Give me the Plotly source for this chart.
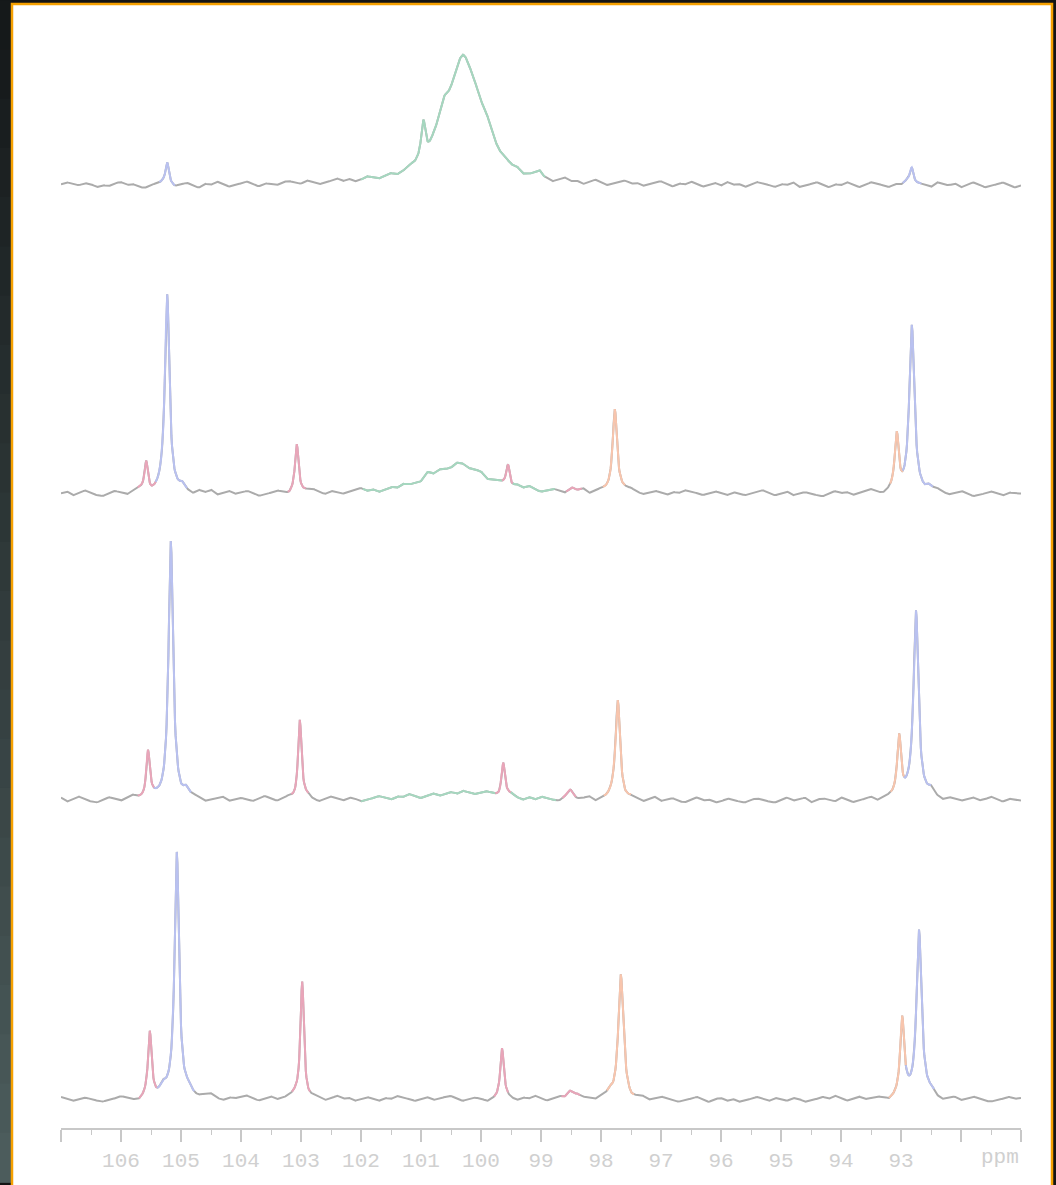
import numpy as np
import plotly.graph_objects as go

# ---------------- data ----------------
ppm_start, ppm_end = 107.0, 91.0
major_ticks = [107, 106, 105, 104, 103, 102, 101, 100, 99, 98, 97, 96, 95, 94, 93, 92, 91]
major_labels = ["", "106", "105", "104", "103", "102", "101", "100", "99", "98", "97",
                "96", "95", "94", "93", "", ""]
minor_ticks = [106.5, 105.5, 104.5, 103.5, 102.5, 101.5, 100.5, 99.5,
               98.5, 97.5, 96.5, 95.5, 94.5, 93.5, 92.5, 91.5]

# baseline offsets of the four stacked spectra (intensity units)
offsets = [945, 636, 329, 29]

# peak tables: centre (ppm), height, half width (ppm)
t1_pos = [105.23, 100.96, 100.65, 100.30, 99.95, 99.02, 92.82]
t1_hgt = [22, 38, 22, 120, 20, 5, 19]
t1_hw = [0.035, 0.045, 0.12, 0.33, 0.22, 0.04, 0.04]

t2_pos = [105.58, 105.23, 104.98, 103.07, 100.90, 100.35, 99.55, 98.47, 97.77, 93.07, 92.82, 92.55]
t2_hgt = [30, 200, 5, 48, 7, 30, 22, 3, 85, 56, 166, 5]
t2_hw = [0.035, 0.045, 0.05, 0.035, 0.1, 0.5, 0.035, 0.08, 0.045, 0.04, 0.05, 0.06]

t3_pos = [105.55, 105.17, 104.92, 103.02, 100.30, 99.63, 98.52, 97.72, 93.03, 92.75, 92.50]
t3_hgt = [47, 258, 7, 80, 6, 34, 7, 99, 62, 190, 5]
t3_hw = [0.035, 0.045, 0.05, 0.035, 0.9, 0.035, 0.06, 0.045, 0.04, 0.05, 0.06]

t4_pos = [105.52, 105.30, 105.07, 104.85, 102.98, 99.65, 98.52, 97.85, 97.67, 92.98, 92.70, 92.48]
t4_hgt = [64, 6, 248, 6, 118, 50, 8, 6, 124, 78, 168, 5]
t4_hw = [0.035, 0.06, 0.045, 0.06, 0.035, 0.035, 0.07, 0.05, 0.05, 0.04, 0.05, 0.06]

# baseline noise read every 0.1 ppm from 107.0 down to 91.0 (pixel-scale units)
ripple_1 = [1, 3, 1, 0, 2, 1, -2, 0, -1, 2, 3, 0, 1, -2, -3, 0, 1, 2, 0, -2,
            0, 2, -1, -3, 1, 0, 3, 1, -2, 0, 1, 3, 0, -2, 1, 0, -1, 2, 3, 1,
            0, 3, 1, -1, 0, 2, 4, 1, 3, 0, 1, 4, 2, 0, 2, 3, 0, 1, 4, 2,
            1, -1, 3, 1, 4, 0, 1, 3, 0, 2, -1, 3, 1, -1, 2, 0, 2, -2, 0, 3,
            1, 0, -2, 1, 3, 0, 1, -2, 0, 3, 1, -2, 0, 2, 3, 0, 1, -2, 0, 2,
            3, 0, -2, 1, 0, 3, 1, -2, 0, 2, -1, 3, 0, 1, -2, 0, 3, 1, 0, -2,
            1, 0, 3, -2, 0, 1, 3, 0, -2, 1, 0, 3, 1, -2, 0, 3, 1, 0, -2, 1,
            0, 3, -2, 1, 0, -2, 3, 1, 0, 2, -2, 0, 3, 1, -2, 0, 1, 3, 0, -2,
            0]
ripple_2 = [0, 2, -2, 0, 3, 0, -2, -3, 0, 2, 0, -2, 1, 3, 0, -2, 0, 2, -2, 0,
            1, 0, -2, 2, 0, 3, -2, 0, 2, -1, 0, 2, 0, -3, -2, 0, 2, 0, -2, 1,
            0, 2, 3, 0, -2, 1, 0, -2, 0, 2, 3, 0, 1, -2, 0, 2, 0, 3, 1, 0,
            -2, 1, 0, 3, 0, -2, 1, 0, -2, 0, 2, -2, 0, 1, 0, -2, 2, 0, 3, 0,
            -2, 0, 2, 0, -2, 1, 0, 3, -2, 0, 2, 0, -2, 0, 2, 3, 0, -2, 0, 2,
            0, -2, 1, 0, 3, 1, 0, -2, 0, 2, 0, -2, 1, 0, -2, 0, 2, 3, 0, -2,
            0, 2, -2, 0, 1, 0, -2, -3, 0, 2, 0, 1, -2, 0, 2, 3, 0, -2, 0, 1,
            -2, 0, 2, 0, -2, 1, 3, 0, -2, 0, 2, 0, -3, -2, 0, 2, 0, -2, 1, 0,
            0]
ripple_3 = [2, -2, 0, 3, 0, -2, -3, -1, 2, 0, -2, 1, 3, 0, -2, 1, 0, -2, 0, 2,
            -2, 0, 2, 0, -3, -1, 0, 2, -2, 0, 1, 0, -2, 1, 3, 0, -2, 0, 2, -2,
            0, 2, -1, -3, 0, 2, 0, -2, 1, 0, -3, -1, 0, 2, 0, -2, 1, 0, 3, 0,
            -2, 0, 2, -1, 0, 2, 0, 3, 1, 0, 2, 3, 1, -2, 0, 2, -1, -3, 0, -2,
            1, 0, -2, -3, 0, 2, -1, 0, 2, -3, -1, 0, 2, 0, -2, 1, 0, -3, 0, 2,
            -2, 0, 1, -2, -3, 0, 2, -1, 0, -3, -2, 1, 0, -2, -3, 0, 1, 0, -2, -3,
            0, 2, -1, 0, 2, -3, 0, 1, 0, -2, 2, 0, -3, -1, 0, 2, -2, 0, 1, 0,
            -2, 1, 0, -3, 0, 2, 0, -2, 1, 0, -2, 0, 2, -1, 0, 3, 0, -2, 1, 0,
            -1]
ripple_4 = [2, 0, -2, 0, 1, 0, -2, -3, -1, 0, 2, 0, -2, -3, 0, 2, 0, 3, 1, -2,
            0, 2, -1, 0, 3, 4, 0, -2, 1, 0, 2, 3, 0, -2, 0, 2, -1, 0, 2, 3,
            0, -2, 1, 0, -2, 0, 3, 0, 1, -2, 0, 2, 0, -2, 1, 0, 3, 1, 0, -2,
            0, 2, -1, 0, 2, 3, 0, -2, 0, 1, 0, -3, -1, 0, 2, 0, -2, 1, 0, 3,
            0, -2, 0, 2, -1, 0, 3, 1, 0, -2, 1, 0, -2, 0, 2, -3, 0, 1, -2, 0,
            2, 0, -2, -3, -1, 0, 2, -1, -3, 0, 1, -2, 0, -3, -1, 0, 2, 0, -2, 1,
            0, -2, 1, 0, -3, -1, 0, 2, 0, 3, 1, -2, 0, 2, -1, 0, 1, 0, -3, -1,
            0, 2, -1, 0, 2, 0, -2, -3, 0, 1, -2, 0, 2, 0, -2, -3, -1, 0, 2, 0,
            1]

# coloured regions (high ppm, low ppm, colour key)
t1_regions = [(105.36, 105.10, "blue"), (102.0, 98.93, "green"), (92.97, 92.66, "blue")]
t2_regions = [(105.72, 105.42, "pink"), (105.42, 104.90, "blue"), (103.22, 102.92, "pink"),
              (101.97, 99.65, "green"), (99.65, 99.47, "pink"), (99.47, 98.77, "green"),
              (98.58, 98.32, "pink"), (97.97, 97.60, "peach"), (93.18, 92.97, "peach"),
              (92.97, 92.47, "blue")]
t3_regions = [(105.72, 105.45, "pink"), (105.45, 104.83, "blue"), (103.16, 102.88, "pink"),
              (102.0, 99.76, "green"), (99.76, 99.50, "pink"), (99.50, 98.75, "green"),
              (98.64, 98.42, "pink"), (97.95, 97.50, "peach"), (93.17, 92.95, "peach"),
              (92.95, 92.50, "blue")]
t4_regions = [(105.70, 105.40, "pink"), (105.40, 104.78, "blue"), (103.15, 102.85, "pink"),
              (99.78, 99.55, "pink"), (98.66, 98.35, "pink"), (97.90, 97.45, "peach"),
              (93.20, 92.92, "peach"), (92.92, 92.45, "blue")]

# ---------------- styling ----------------
colors = {"grey": "#ababab", "blue": "#b9c1f0", "pink": "#e9a5b9",
          "peach": "#f8c5ad", "green": "#a5d7bf"}
W, H = 1056, 1185
ML, MR, MT, MB = 61, 35, 20, 54
PW, PH = W - ML - MR, H - MT - MB


def px_x(px):
    return (px - ML) / PW


def px_y(py):
    return (H - MB - py) / PH


grid = np.arange(ppm_start, ppm_end - 1e-9, -0.01)

traces = [
    (t1_pos, t1_hgt, t1_hw, ripple_1, t1_regions),
    (t2_pos, t2_hgt, t2_hw, ripple_2, t2_regions),
    (t3_pos, t3_hgt, t3_hw, ripple_3, t3_regions),
    (t4_pos, t4_hgt, t4_hw, ripple_4, t4_regions),
]

fig = go.Figure()
for (pos, hgt, hw, rip, regions), off in zip(traces, offsets):
    y = np.full_like(grid, float(off))
    for p, h, g in zip(pos, hgt, hw):
        y += h * g * g / (g * g + (grid - p) ** 2)
    rip_x = np.linspace(ppm_start, ppm_end, len(rip))
    y += np.interp(grid[::-1], rip_x[::-1], np.array(rip, float)[::-1])[::-1]
    fig.add_trace(go.Scatter(x=grid, y=y, mode="lines",
                             line=dict(color=colors["grey"], width=2),
                             hoverinfo="skip", showlegend=False))
    for hi, lo, ck in regions:
        m = (grid <= hi + 1e-9) & (grid >= lo - 1e-9)
        fig.add_trace(go.Scatter(x=grid[m], y=y[m], mode="lines",
                                 line=dict(color=colors[ck], width=2),
                                 hoverinfo="skip", showlegend=False))

# ---------------- background / frame ----------------
shapes = []
n = 24
top_c = np.array([0x15, 0x19, 0x1a])
bot_c = np.array([0x4c, 0x5c, 0x5c])
for i in range(n):
    f = i / (n - 1)
    c = (top_c * (1 - f) + bot_c * f).astype(int)
    shapes.append(dict(type="rect", xref="paper", yref="paper", layer="below",
                       x0=px_x(-2), x1=px_x(12), y0=px_y(i * H / n), y1=px_y((i + 1) * H / n + 1),
                       fillcolor="rgb(%d,%d,%d)" % tuple(c), line=dict(width=0)))
shapes.append(dict(type="rect", xref="paper", yref="paper", layer="below",
                   x0=px_x(12), x1=px_x(1052), y0=px_y(4), y1=px_y(H + 10),
                   fillcolor="white", line=dict(color="#f5a000", width=2.5)))

fig.update_layout(
    width=W, height=H,
    margin=dict(l=ML, r=MR, t=MT, b=MB),
    paper_bgcolor="#141414", plot_bgcolor="rgba(0,0,0,0)",
    shapes=shapes,
    xaxis=dict(range=[ppm_start, ppm_end], showgrid=False, zeroline=False,
               showline=True, linecolor="#c8c8c8", linewidth=2,
               ticks="outside", ticklen=12, tickwidth=1.5, tickcolor="#c8c8c8",
               tickvals=major_ticks, ticktext=major_labels,
               tickfont=dict(family="Liberation Mono", size=21, color="#d0d0d0"),
               minor=dict(ticks="outside", ticklen=5, tickwidth=1.2, tickcolor="#c8c8c8",
                          tickvals=minor_ticks),
               fixedrange=True),
    yaxis=dict(range=[0, PH], visible=False, fixedrange=True),
    annotations=[dict(text="ppm", xref="paper", yref="paper", x=1.0, y=px_y(1161),
                      xanchor="right", yanchor="middle", showarrow=False,
                      font=dict(family="Liberation Mono", size=21, color="#d0d0d0"))],
)

fig.write_html("out.html",
               config={"displayModeBar": False},
               post_script="document.body.style.margin='0px';"
                           "document.body.style.background='#141414';"
                           "document.body.style.overflow='hidden';")
